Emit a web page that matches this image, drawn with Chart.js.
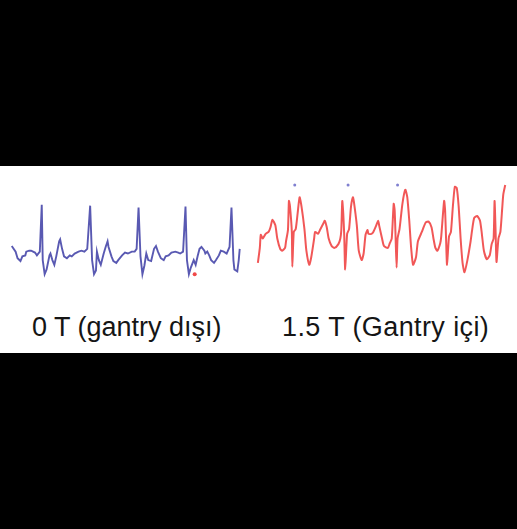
<!DOCTYPE html>
<html>
<head>
<meta charset="utf-8">
<script src="https://cdn.jsdelivr.net/npm/chart.js@4/dist/chart.umd.min.js"></script>
<style>
  html, body { margin: 0; padding: 0; background: #000; }
  body { width: 517px; height: 529px; position: relative; overflow: hidden; }
  #band { position: absolute; left: 0; top: 166px; width: 517px; height: 187px; background: #fff; }
  canvas { position: absolute; }
  #ecgLeft { left: 0; top: 166px; }
  #ecgRight { left: 250px; top: 166px; }
  .lbl { position: absolute; top: 314px; font-family: "Liberation Sans", Arial, sans-serif; font-size: 27px; line-height: 27px; color: #151515; white-space: nowrap; }
</style>
</head>
<body>
<div id="band"></div>
<canvas id="ecgLeft" width="250" height="130"></canvas>
<canvas id="ecgRight" width="267" height="130"></canvas>
<div class="lbl" style="left:32px">0 T (gantry dışı)</div>
<div class="lbl" style="left:282px; letter-spacing:0.4px">1.5 T (Gantry içi)</div>
<script>
// ECG outside the gantry (0 T): time samples and amplitude (arb. units)
const blueTime = [0,4,6,9,11,14,15,18,20,24,26,29,31,32,34,36,39,40,42,44,46,49,50,52,54,57,60,62,65,69,72,75,78,
  81,83,85,87,88,90,92,95,97,99,100,103,105,108,110,114,117,120,124,127,129,
  131,133,135,137,139,141,144,147,149,151,154,157,159,162,165,169,172,174,177,
  179.5,181,183,185,188,190,192,194,196,199,200,202,204,206,209,211,214,216,219,222,225,
  227,229,230,233,234.5,235.5];
const blueAmp = [6,0,-7,-10,-5,-4,0,1,1,-1,-4,0,50,-9,-24,-19,-4,-2,-9,-14,-5,11,13,3,-5,-7,-4,-5,-2,0,1,0,3,
  49,-9,-24,-20,0,-9,-14,-2,5,11,5,-5,-10,-12,-9,-4,-1,-2,0,0,3,
  47,-5,-24,-15,-2,-9,-10,3,6,0,-7,-9,-5,-4,-1,0,-1,-2,0,
  48,-9,-24,-17,-9,-14,-5,3,5,1,-2,0,-4,-9,-12,-9,-4,1,0,-2,5,
  47,-9,-19,-21,-9,3];

// ECG inside the gantry (1.5 T)
const redTime = [0,2,3,5,8,11,13,15,18,20,23,25,28,29,31,32,33,35,35.5,37,39,41,43,45,48,50,53,55,58,59,62,64,68,69,71,73,76,79,83,85,
  86,87,88,89,90,92,94,96,98,99,102,104,107,109,111,113,114,117,119,122,124,125,128,130,134,136,138,
  140,141,142,143,144,146,149,152,154,156,158,160,163,165,169,173,176,179,181,183,185,188,189,
  192,193,194,195,197,199,201,203,205,207,209,211,213,216,219,221,223,226,229,231,233,236,239,241,243,
  244,245,246,248,250,252,253,255];
const redAmp = [-25,-9,5,1,6,8,13,21,15,1,-10,-12,-9,-2,10,41,36,8,-29,8,11,28,45,35,11,-12,-27,-19,1,8,6,10,18,20,13,1,-7,-9,-5,1,
  10,41,28,5,-32,6,11,35,45,40,15,-12,-22,-15,5,10,6,6,8,15,20,15,1,-7,-9,-4,1,
  38,31,1,-30,1,11,38,53,45,21,-9,-27,-19,-2,8,18,19,13,1,-9,-12,-4,3,
  41,31,1,-27,3,8,35,56,55,35,1,-25,-35,-22,-4,11,23,25,20,5,-12,-21,-17,-5,1,
  41,11,-24,1,8,35,48,58];

// stray markers
const blueMarkTime = [38, 93, 144];
const blueMarkAmp = [58, 58, 58];
const redMarkTime = [189];
const redMarkAmp = [-24];

function pairs(xs, ys) {
  return xs.map((x, i) => ({ x: x, y: ys[i] }));
}

function ecgOptions(xMin, xMax, yMin, yMax) {
  return {
    responsive: false,
    animation: false,
    devicePixelRatio: 1,
    layout: { padding: 0 },
    plugins: { legend: { display: false }, tooltip: { enabled: false } },
    scales: {
      x: { type: 'linear', min: xMin, max: xMax, display: false },
      y: { type: 'linear', min: yMin, max: yMax, display: false }
    }
  };
}

new Chart(document.getElementById('ecgLeft').getContext('2d'), {
  type: 'line',
  data: {
    datasets: [
      { data: pairs(blueTime, blueAmp), borderColor: 'rgba(60,60,165,0.85)', borderWidth: 1.9, pointRadius: 0, tension: 0, clip: false },
      { data: pairs(redMarkTime, redMarkAmp), showLine: false, pointRadius: 2, pointBackgroundColor: '#f04848', pointBorderWidth: 0 }
    ]
  },
  options: ecgOptions(-8, 242, -43, 87)
});

new Chart(document.getElementById('ecgRight').getContext('2d'), {
  type: 'line',
  data: {
    datasets: [
      { data: pairs(redTime, redAmp), borderColor: 'rgba(238,45,45,0.8)', borderWidth: 2, pointRadius: 0, tension: 0.2, clip: false },
      { data: pairs(blueMarkTime, blueMarkAmp), showLine: false, pointRadius: 1.5, pointBackgroundColor: '#8080d0', pointBorderWidth: 0 }
    ]
  },
  options: ecgOptions(-4, 263, -56, 74)
});
</script>
</body>
</html>
